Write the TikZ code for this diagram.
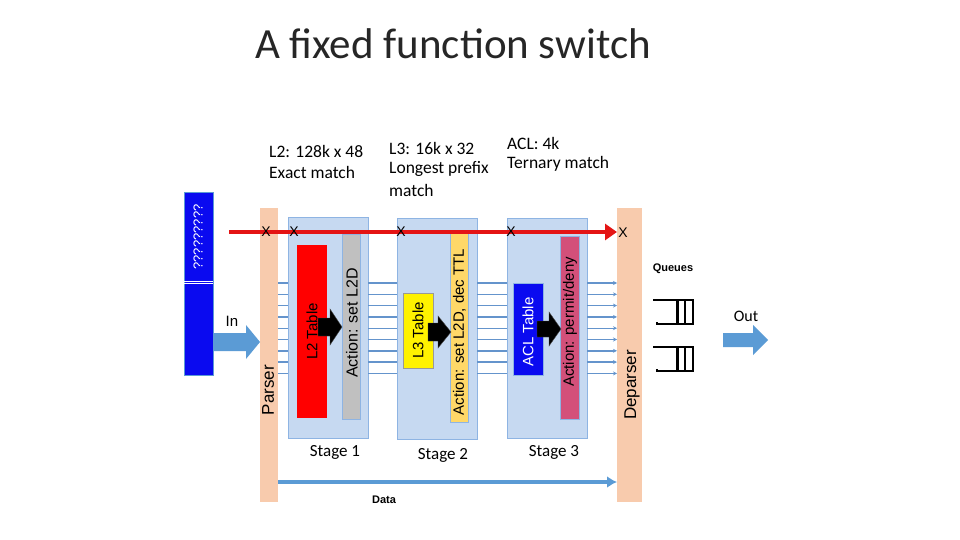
\documentclass[tikz,border=0pt]{standalone}
\usepackage{fontspec}
\setmainfont{Carlito}
\newfontfamily\arial{Liberation Sans}
\usetikzlibrary{arrows.meta}
\definecolor{stagefill}{HTML}{C6D9F1}
\definecolor{stageline}{HTML}{8EB4E3}
\definecolor{peach}{HTML}{F8CBAD}
\definecolor{busblue}{HTML}{6494CC}
\definecolor{arrowblue}{HTML}{5B9BD5}
\definecolor{barblue}{HTML}{0A0AF0}
\definecolor{redline}{HTML}{E41414}
\definecolor{actgrey}{HTML}{C0C0C0}
\definecolor{actorange}{HTML}{FFD868}
\definecolor{actrose}{HTML}{D3507A}
\newcommand{\fs}[1]{\fontsize{#1}{#1}\selectfont}
\tikzset{
  px/.style={x=1pt,y=-1pt},
  rbox/.style={rectangle,inner sep=0pt,outer sep=0pt},
  stagebox/.style={rbox,fill=stagefill,draw=stageline,line width=0.8pt},
  peachbar/.style={rbox,fill=peach},
  tablebox/.style={rbox,line width=0.6pt},
  vlabel/.style={rotate=90,inner sep=0pt,font=\arial\fs{15}},
  bus/.style={busblue,line width=1.4pt},
  xmark/.style={inner sep=0pt,font=\arial\fs{14}},
  toplabel/.style={inner sep=0pt,anchor=west,font=\fs{17.5}},
  stagelabel/.style={inner sep=0pt,font=\fs{17}},
}
\begin{document}
\begin{tikzpicture}[px]
\useasboundingbox (0,0) rectangle (960,540);
% title
\node[inner sep=0pt,font=\fs{43},text=black!85] (title) at (453,44) {A fixed function switch};
% top labels
\node[toplabel] (l2a) at (269,151) {L2: 128k x 48};
\node[toplabel] (l2b) at (269,172) {Exact match};
\node[toplabel] (l3a) at (389,148) {L3: 16k x 32};
\node[toplabel] (l3b) at (389,169) {Longest prefix};
\node[toplabel] (l3c) at (389,190) {match};
\node[toplabel] (acla) at (507,143) {ACL: 4k};
\node[toplabel] (aclb) at (507,164) {Ternary match};
% blue bar
\node[rbox,fill=barblue,draw=arrowblue,line width=0.6pt,minimum width=29pt,minimum height=183pt] (bluebar) at (198.5,283.5) {};
\draw[white,line width=0.5pt] (bluebar.west |- 0,281.5) -- (bluebar.east |- 0,281.5);
\draw[white,line width=0.5pt] (bluebar.west |- 0,283.5) -- (bluebar.east |- 0,283.5);
\node[rotate=90,inner sep=0pt,text=white,font=\arial\fs{13}] (qmarks) at (198,237) {?????????};
% parser / deparser
\node[peachbar,minimum width=18pt,minimum height=294pt] (parser) at (269,355) {};
\node[peachbar,minimum width=25pt,minimum height=294pt] (deparser) at (629.5,355) {};
\node[vlabel,font=\arial\fs{17}] (parserlbl) at (268,390) {Parser};
\node[vlabel,font=\arial\fs{17}] (deparserlbl) at (632,385) {Deparser};
% stages
\node[stagebox,minimum width=80pt,minimum height=221pt] (stage1) at (328,327.5) {};
\node[stagebox,minimum width=80pt,minimum height=221pt] (stage2) at (437,328.5) {};
\node[stagebox,minimum width=80pt,minimum height=220pt] (stage3) at (547,328) {};
\node[stagelabel] (s1lbl) at (335,452) {Stage 1};
\node[stagelabel] (s2lbl) at (443,455) {Stage 2};
\node[stagelabel] (s3lbl) at (554,452) {Stage 3};
% tables and actions
\node[tablebox,fill=red,minimum width=30pt,minimum height=173pt] (l2tab) at (312,331.5) {};
\node[tablebox,fill=actgrey,draw=stageline,minimum width=18pt,minimum height=185pt] (act1) at (351,326.5) {};
\node[tablebox,fill=yellow,draw=black!40,minimum width=30pt,minimum height=75pt] (l3tab) at (418,330.5) {};
\node[tablebox,fill=actorange,draw=stageline,minimum width=18pt,minimum height=189pt] (act2) at (459,327.5) {};
\node[tablebox,fill=barblue,draw=stageline,minimum width=30pt,minimum height=92pt] (acltab) at (528,329) {};
\node[tablebox,fill=actrose,draw=stageline,minimum width=19pt,minimum height=183pt] (act3) at (569.5,327.5) {};
\node[vlabel] (l2lbl) at (l2tab.center) {L2 Table};
\node[vlabel,font=\arial\fs{16}] (act1lbl) at (352,323) {Action: set L2D};
\node[vlabel] (l3lbl) at (l3tab.center) {L3 Table};
\node[vlabel] (act2lbl) at (459.5,332) {Action: set L2D, dec TTL};
\node[vlabel,text=white] (acllbl) at (528,332) {ACL Table};
\node[vlabel] (act3lbl) at (570,322) {Action: permit/deny};
% black block arrows
\fill[black,draw=black!70,line width=0.4pt] (318,318) -- (330,318) -- (330,309) -- (342,327) -- (330,345) -- (330,336) -- (318,336) -- cycle;
\fill[black,draw=black!70,line width=0.4pt] (428,323) -- (438,323) -- (438,316) -- (451,332) -- (438,348) -- (438,341) -- (428,341) -- cycle;
\fill[black,draw=black!70,line width=0.4pt] (537,321) -- (549,321) -- (549,312) -- (561,329) -- (549,346) -- (549,337) -- (537,337) -- cycle;
% bus lines
\foreach \i in {0,...,8}{
  \pgfmathsetmacro{\yy}{283+\i*11.3}
  \draw[bus] (parser.east |- 0,\yy) -- (stage1.west |- 0,\yy);
  \draw[bus] (stage1.east |- 0,\yy) -- (stage2.west |- 0,\yy);
  \draw[bus] (stage2.east |- 0,\yy) -- (stage3.west |- 0,\yy);
  \draw[bus,-{Stealth[length=4pt,width=4pt]}] (stage3.east |- 0,\yy) -- (deparser.west |- 0,\yy);
}
% red line
\coordinate (redstart) at (229,232);
\draw[redline,line width=3.5pt,-{Triangle[length=12pt,width=16pt]}] (redstart) -- (deparser.west |- redstart);
\node[xmark] (x1) at (266,232) {X};
\node[xmark] (x2) at (294,232) {X};
\node[xmark] (x3) at (401,232) {X};
\node[xmark] (x4) at (511,232) {X};
\node[xmark] (x5) at (623,233) {X};
% data arrow
\draw[arrowblue,line width=3.5pt,-{Latex[length=10pt,width=12pt]}] (parser.east |- 0,482) -- (deparser.west |- 0,482);
\node[inner sep=0pt,font=\arial\bfseries\fs{11}] (datalbl) at (384,500) {Data};
% In arrow
\fill[arrowblue] (bluebar.east |- 0,333) -- (246,333) -- (246,325) -- (parser.west |- 0,342) -- (246,359) -- (246,351) -- (bluebar.east |- 0,351) -- cycle;
\node[inner sep=0pt,font=\arial\fs{15}] (inlbl) at (232,321) {In};
% queues
\node[inner sep=0pt,font=\arial\bfseries\fs{11}] (queueslbl) at (673,269) {Queues};
\foreach \qy in {300,347}{
  \draw[black,line width=2pt] (653,\qy) -- (693,\qy) -- (693,\qy+24) -- (657,\qy+24) -- (657,\qy+22);
  \draw[black,line width=3pt] (677,\qy) -- (677,\qy+24);
  \draw[black,line width=2pt] (685,\qy) -- (685,\qy+24);
}
% Out arrow
\fill[arrowblue] (723,333) -- (753,333) -- (753,325) -- (768,340) -- (753,355) -- (753,347) -- (723,347) -- cycle;
\node[inner sep=0pt,font=\fs{16}] (outlbl) at (746,316) {Out};
\end{tikzpicture}
\end{document}
